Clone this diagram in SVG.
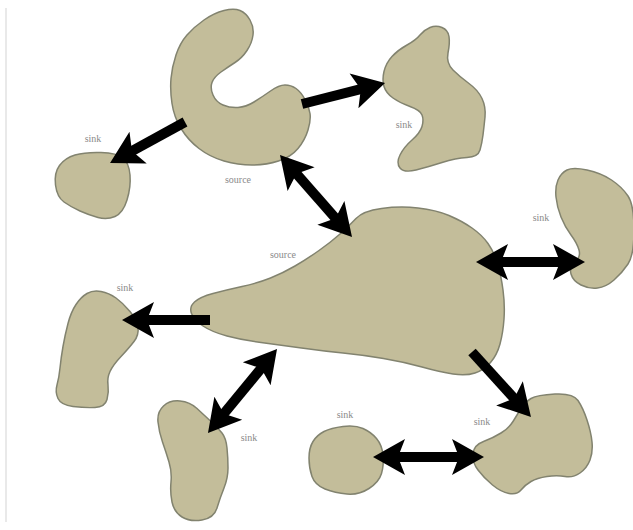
<svg xmlns="http://www.w3.org/2000/svg" width="633" height="530" viewBox="0 0 633 530">
<style>
.blob{fill:#c3bd9a;stroke:#82836f;stroke-width:1.5;stroke-linejoin:round}
.lbl{font-family:"Liberation Serif",serif;font-size:10px;fill:#8a8a8a;text-anchor:middle}
.conn{stroke:#000;stroke-width:10;fill:none;stroke-linecap:butt}
</style>
<defs>
<marker id="head" markerUnits="userSpaceOnUse" markerWidth="40" markerHeight="40" refX="0" refY="0" orient="auto-start-reverse" overflow="visible">
<path d="M15,0 L-17,-18 L-10,0 L-17,18 Z" fill="#000"/>
</marker>
</defs>
<rect width="633" height="530" fill="#fff"/>
<line x1="6" y1="8" x2="6" y2="522" stroke="#e2e2e2" stroke-width="1.5"/>

<g id="source-top">
<path class="blob" d="M240,10.5 Q246,13 250,20 Q254,27 253,35 Q252,43 247,50.5 Q242,58 235,62.5 Q228,67 221,72 Q214,77 212,82.5 Q210,88 213,95 Q216,102 223,105 Q230,108 238,107.5 Q246,107 254,102 Q262,97 270.5,91 Q279,85 285,85 Q291,85 296,88.5 Q301,92 305,99.5 Q309,107 310,113.5 Q311,120 308,130 Q305,140 298,148.5 Q291,157 278.5,161 Q266,165 252,165 Q238,165 224,161 Q210,157 199,148.5 Q188,140 181,128.5 Q174,117 172,103.5 Q170,90 171,78.5 Q172,67 176,55 Q180,43 187,35 Q194,27 204,20 Q214,13 224,10.5 Q234,8 240,10.5 Z"/>
<text class="lbl" x="238" y="183">source</text>
</g>

<g id="sink-top-right">
<path class="blob" d="M442,27.5 Q448,30 449,36.5 Q450,43 448,53 Q446,63 453,70 Q460,77 469,83.5 Q478,90 482,98.5 Q486,107 485,117 Q484,127 483,135 Q482,143 480,150 Q478,157 467,157.5 Q456,158 442,162.5 Q428,167 416,170 Q404,173 400,168 Q396,163 400,155 Q404,147 412,140 Q420,133 422,126.5 Q424,120 422,115 Q420,110 410,106.5 Q400,103 393,98 Q386,93 384,86.5 Q382,80 384,71.5 Q386,63 392,56.5 Q398,50 407,45 Q416,40 420,35 Q424,30 430,27.5 Q436,25 442,27.5 Z"/>
<text class="lbl" x="404" y="128">sink</text>
</g>

<g id="sink-top-left">
<path class="blob" d="M101,152.5 Q117,153 123,158 Q129,163 130,175 Q131,187 127,200 Q123,213 115,216.5 Q107,220 98,217.5 Q89,215 80,211 Q71,207 64,202 Q57,197 55.5,185 Q54,173 59.5,165.5 Q65,158 75,155 Q85,152 101,152.5 Z"/>
<text class="lbl" x="93" y="142">sink</text>
</g>

<g id="sink-right">
<path class="blob" d="M587,170 Q601,173 611.5,180 Q622,187 628,196 Q634,205 634,230 Q634,255 628,264 Q622,273 614,280 Q606,287 597.5,288 Q589,289 581,285 Q573,281 571,274 Q569,267 575,262 Q581,257 579,250 Q577,243 571,235 Q565,227 561,217 Q557,207 556,197 Q555,187 558,180 Q561,173 567,170 Q573,167 587,170 Z"/>
<text class="lbl" x="541" y="221">sink</text>
</g>

<g id="source-main">
<path class="blob" d="M381.5,208.5 Q400,206 418,208 Q436,210 449,215.5 Q462,221 472,228 Q482,235 488,243.5 Q494,252 497.5,263.5 Q501,275 503,290 Q505,305 504,319 Q503,333 500,344 Q497,355 490.5,362.5 Q484,370 475,373 Q466,376 453,374 Q440,372 422,367 Q404,362 383.5,358.5 Q363,355 343,353 Q323,351 301.5,348 Q280,345 261,342.5 Q242,340 227,336 Q212,332 203,326 Q194,320 191.5,313.5 Q189,307 194.5,302 Q200,297 213,293.5 Q226,290 242,286.5 Q258,283 270.5,278 Q283,273 295,266 Q307,259 319,250.5 Q331,242 340,234 Q349,226 356,218.5 Q363,211 381.5,208.5 Z"/>
<text class="lbl" x="283" y="258">source</text>
</g>

<g id="sink-left">
<path class="blob" d="M101,291.5 Q109,293 116,298 Q123,303 130,311.5 Q137,320 138,327.5 Q139,335 134,341.5 Q129,348 121,356.5 Q113,365 110,371.5 Q107,378 108,385 Q109,392 107,399.5 Q105,407 95,407.5 Q85,408 73,406.5 Q61,405 58,398.5 Q55,392 57,385 Q59,378 60,368 Q61,358 63,346.5 Q65,335 68,323.5 Q71,312 76,304.5 Q81,297 87,293.5 Q93,290 101,291.5 Z"/>
<text class="lbl" x="125" y="291">sink</text>
</g>

<g id="sink-bottom-left">
<path class="blob" d="M180,401 Q190,402 197,408.5 Q204,415 211,421.5 Q218,428 222,433 Q226,438 227,448 Q228,458 228,468 Q228,478 224,488 Q220,498 217,508 Q214,518 202,520 Q190,522 182,517 Q174,512 172,502 Q170,492 171,482 Q172,472 169,462 Q166,452 162.5,442 Q159,432 158,422 Q157,412 163.5,406 Q170,400 180,401 Z"/>
<text class="lbl" x="249" y="441">sink</text>
</g>

<g id="sink-bottom-middle">
<path class="blob" d="M343,426.5 Q355,425 363,428.5 Q371,432 376.5,438.5 Q382,445 383,455 Q384,465 381.5,473.5 Q379,482 369,488.5 Q359,495 347,494 Q335,493 325,489 Q315,485 312,476.5 Q309,468 309,458 Q309,448 313,441.5 Q317,435 324,431.5 Q331,428 343,426.5 Z"/>
<text class="lbl" x="345" y="418">sink</text>
</g>

<g id="sink-bottom-right">
<path class="blob" d="M555,394 Q573,393 578,400.5 Q583,408 587,420 Q591,432 592,442 Q593,452 590,460 Q587,468 580,473 Q573,478 565,476.5 Q557,475 547,476.5 Q537,478 531,481.5 Q525,485 521,490 Q517,495 509,493.5 Q501,492 492.5,485 Q484,478 478,470 Q472,462 473,453.5 Q474,445 483.5,441.5 Q493,438 501,433 Q509,428 513,421.5 Q517,415 521,408.5 Q525,402 531,398.5 Q537,395 555,394 Z"/>
<text class="lbl" x="482" y="425">sink</text>
</g>

<g id="connectors">
<line class="conn" x1="185" y1="122" x2="123.2" y2="155.8" marker-end="url(#head)"/>
<line class="conn" x1="302" y1="104" x2="370.5" y2="86.7" marker-end="url(#head)"/>
<line class="conn" x1="289.9" y1="166.3" x2="342.1" y2="225.7" marker-start="url(#head)" marker-end="url(#head)"/>
<line class="conn" x1="491" y1="262" x2="570" y2="262" marker-start="url(#head)" marker-end="url(#head)"/>
<line class="conn" x1="210" y1="320" x2="137" y2="320" marker-end="url(#head)"/>
<line class="conn" x1="267.5" y1="360.6" x2="217.5" y2="421.4" marker-start="url(#head)" marker-end="url(#head)"/>
<line class="conn" x1="472" y1="352" x2="520.9" y2="405.9" marker-end="url(#head)"/>
<line class="conn" x1="388" y1="457" x2="469" y2="457" marker-start="url(#head)" marker-end="url(#head)"/>
</g>
</svg>
